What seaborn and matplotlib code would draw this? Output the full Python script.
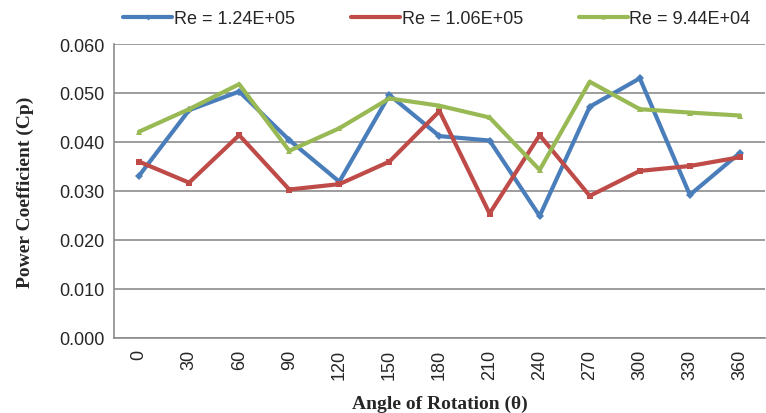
import pandas as pd
import seaborn as sns
import matplotlib.pyplot as plt

# Data
angles = [0, 30, 60, 90, 120, 150, 180, 210, 240, 270, 300, 330, 360]
cp_124 = [0.0331, 0.0465, 0.0503, 0.0404, 0.0319, 0.0496, 0.0412,
          0.0403, 0.0249, 0.0472, 0.0530, 0.0292, 0.0378]
cp_106 = [0.0360, 0.0317, 0.0414, 0.0303, 0.0314, 0.0360, 0.0463,
          0.0254, 0.0414, 0.0290, 0.0341, 0.0351, 0.0369]
cp_944 = [0.0421, 0.0467, 0.0518, 0.0382, 0.0428, 0.0489, 0.0474,
          0.0450, 0.0343, 0.0523, 0.0467, 0.0460, 0.0454]
series_names = ['Re = 1.24E+05', 'Re = 1.06E+05', 'Re = 9.44E+04']
yticks = [0.000, 0.010, 0.020, 0.030, 0.040, 0.050, 0.060]

df = pd.DataFrame({
    'Angle': angles * 3,
    'Cp': cp_124 + cp_106 + cp_944,
    'Series': [series_names[0]] * 13 + [series_names[1]] * 13 + [series_names[2]] * 13
})

sns.set_style('white')
plt.rcParams['font.family'] = ['Liberation Sans', 'DejaVu Sans']

fig = plt.figure(figsize=(7.66, 4.14), dpi=100)
ax = fig.add_axes([0.1488, 0.1812, 0.8499, 0.7101])

palette = {series_names[0]: '#4A7EBB', series_names[1]: '#BE4B48', series_names[2]: '#98B954'}
markers = {series_names[0]: 'D', series_names[1]: 's', series_names[2]: '^'}

sns.lineplot(
    data=df,
    x='Angle',
    y='Cp',
    hue='Series',
    style='Series',
    palette=palette,
    markers=markers,
    dashes=False,
    markersize=4,
    markeredgewidth=0,
    linewidth=3,
    ax=ax
)

ax.set_xlim(-15, 375)
ax.set_ylim(0, 0.060)
ax.set_xticks(angles)
ax.set_xticklabels([str(a) for a in angles], rotation=90, fontsize=13)
ax.set_yticks(yticks)
ax.set_yticklabels(['%.3f' % t for t in yticks], fontsize=13)
ax.yaxis.grid(True, color='#8c8c8c', linewidth=1.2)
ax.set_axisbelow(True)

for s in ['top', 'right']:
    ax.spines[s].set_visible(False)
ax.spines['left'].set_color('#8c8c8c')
ax.spines['bottom'].set_color('#8c8c8c')
ax.spines['left'].set_linewidth(1.2)
ax.spines['bottom'].set_linewidth(1.2)
ax.tick_params(axis='y', length=5, color='#8c8c8c', width=1.2, pad=2)
ax.tick_params(axis='x', length=0, pad=8)

ax.set_xlabel('Angle of Rotation (\u03b8)', family='Liberation Serif',
              fontweight='bold', fontsize=14, labelpad=11)
ax.set_ylabel('Power Coefficient (Cp)', family='Liberation Serif',
              fontweight='bold', fontsize=14, labelpad=18)

handles, labels = ax.get_legend_handles_labels()
ax.legend_.remove()
for h in handles:
    h.set_markersize(3)
fig.legend(handles, labels, loc='upper left', bbox_to_anchor=(0.14, 1.012),
           ncol=3, frameon=False, fontsize=13, handlelength=2.7,
           handletextpad=0.1, columnspacing=3.1)

plt.savefig('out.png', dpi=100)
